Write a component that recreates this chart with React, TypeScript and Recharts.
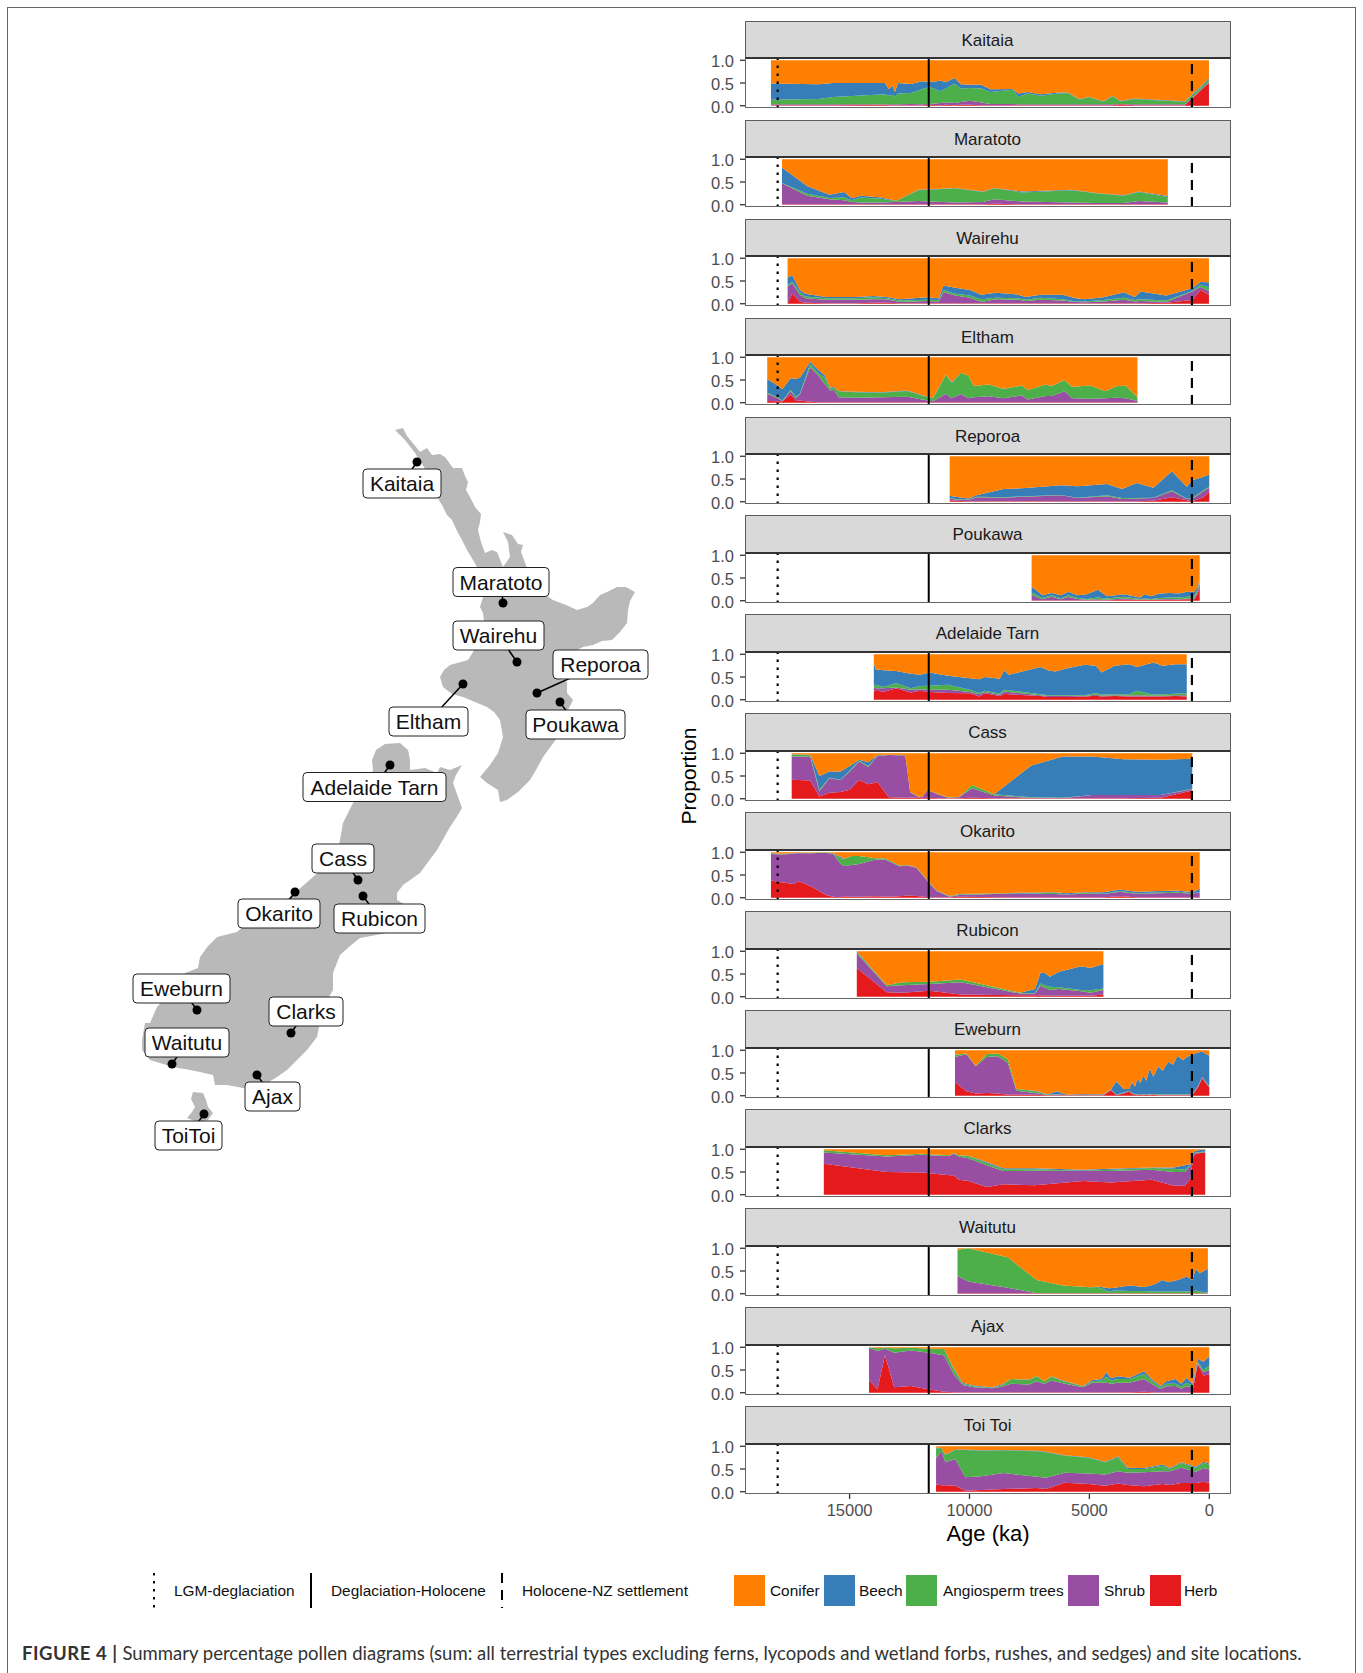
import React from 'react';
import { AreaChart, Area, XAxis, YAxis, ReferenceLine, ScatterChart, Scatter } from 'recharts';

// Upper edge of each stacked band (ages in years BP).
// The conifer band always fills what is left up to 1.0.
const kaitaiaAges = [18280, 16300, 15690, 13525, 13370, 13215, 13110, 12985, 12445, 11980, 11670, 11210, 10980, 10620, 10360, 9975, 9510, 9125, 8200, 7965, 7580, 7040, 6270, 5880, 5420, 5030, 4415, 4030, 3720, 3105, 1020, 15];
const kaitaiaHerb = [.01, .01, .01, .02, .01, .01, .01, .01, .01, .01, .02, .01, .02, .01, .02, .02, .01, .01, .01, .01, .01, .01, .01, .01, .01, .01, .01, .01, .03, .01, .01, .5];
const kaitaiaShrub = [.03, .03, .03, .03, .03, .03, .03, .03, .04, .03, .04, .06, .07, .06, .08, .11, .07, .04, .04, .03, .03, .03, .03, .03, .03, .03, .03, .03, .04, .03, .03, .52];
const kaitaiaAngio = [.13, .15, .19, .25, .22, .24, .2, .27, .28, .36, .41, .32, .38, .49, .38, .39, .38, .3, .35, .2, .27, .22, .27, .28, .13, .19, .09, .21, .1, .15, .09, .57];
const kaitaiaBeech = [.49, .47, .5, .5, .37, .44, .3, .5, .48, .54, .52, .55, .52, .61, .47, .46, .46, .36, .37, .27, .3, .25, .29, .29, .14, .2, .1, .22, .11, .16, .1, .6];

const maratotoAges = [17820, 16770, 15840, 15225, 14915, 14530, 13680, 13060, 12135, 11670, 10590, 9435, 8970, 7810, 5730, 4725, 3565, 2950, 1730];
const maratotoHerb = [.01, .01, .01, .01, .01, .01, .01, .01, .01, .01, .01, .01, .02, .01, .01, .01, .01, .01, .01];
const maratotoShrub = [.47, .2, .12, .1, .06, .05, .05, .06, .08, .07, .05, .06, .12, .07, .05, .04, .04, .08, .05];
const maratotoAngio = [.48, .24, .15, .16, .1, .16, .13, .08, .32, .33, .36, .28, .36, .27, .32, .25, .2, .28, .17];
const maratotoBeech = [.82, .41, .22, .28, .14, .2, .16, .09, .33, .34, .37, .29, .37, .29, .33, .26, .21, .29, .19];

const wairehuAges = [17585, 17385, 17075, 16845, 15995, 14760, 13990, 13450, 12910, 11750, 11285, 11085, 10590, 9975, 9510, 8895, 7965, 7660, 7040, 6115, 5575, 5190, 4415, 3565, 3105, 2870, 1790, 710, 370, 15];
const wairehuHerb = [.01, .22, .05, .02, .01, .01, .02, .02, .01, .01, .01, .01, .01, .01, .01, .01, .01, .01, .01, .01, .01, .01, .01, .01, .01, .01, .02, .08, .3, .2];
const wairehuShrub = [.38, .45, .2, .12, .09, .09, .1, .1, .04, .06, .05, .26, .18, .13, .04, .1, .09, .06, .09, .07, .04, .03, .05, .09, .05, .06, .04, .27, .37, .28];
const wairehuAngio = [.42, .48, .25, .16, .12, .12, .14, .12, .07, .09, .08, .3, .22, .18, .1, .13, .12, .09, .13, .1, .05, .05, .08, .13, .08, .1, .07, .28, .42, .36];
const wairehuBeech = [.58, .62, .3, .22, .15, .15, .17, .15, .1, .14, .12, .4, .35, .3, .2, .24, .2, .15, .2, .2, .12, .1, .14, .25, .15, .27, .18, .34, .48, .47];

const elthamAges = [18435, 18000, 17800, 17460, 17230, 17075, 16645, 16305, 16025, 15810, 15655, 15455, 14760, 13680, 12600, 11750, 11520, 10980, 10745, 10360, 10050, 9820, 9200, 8585, 7810, 7580, 6810, 6575, 6035, 5730, 4955, 4340, 3875, 3490, 2995];
const elthamHerb = [.04, .03, .03, .18, .04, .05, .02, .01, .01, .01, .01, .01, .01, .01, .01, .01, .01, .01, .01, .01, .01, .01, .01, .01, .01, .01, .01, .01, .01, .01, .01, .01, .01, .01, .01];
const elthamShrub = [.2, .1, .04, .25, .1, .18, .78, .6, .4, .27, .28, .12, .11, .12, .13, .05, .03, .2, .1, .19, .1, .12, .14, .1, .16, .07, .15, .15, .25, .1, .09, .1, .11, .1, .04];
const elthamAngio = [.22, .12, .05, .28, .13, .2, .85, .65, .55, .3, .33, .25, .23, .22, .26, .12, .1, .62, .43, .66, .6, .37, .4, .3, .38, .28, .4, .36, .5, .35, .38, .25, .36, .38, .12];
const elthamBeech = [.52, .38, .3, .54, .53, .55, .9, .72, .6, .33, .35, .26, .24, .23, .27, .13, .11, .62, .45, .66, .6, .37, .4, .31, .38, .28, .4, .37, .5, .35, .38, .25, .36, .38, .12];

const reporoaAges = [10825, 10590, 10050, 9665, 8585, 7660, 6190, 5495, 4260, 3645, 3025, 2330, 1560, 940, 710, 245, 0];
const reporoaHerb = [.03, .02, .01, .01, .01, .01, .01, .01, .01, .01, .01, .02, .1, .03, .01, .1, .22];
const reporoaShrub = [.07, .05, .04, .1, .09, .11, .14, .08, .12, .06, .07, .08, .23, .06, .06, .23, .31];
const reporoaAngio = [.08, .06, .05, .11, .1, .12, .15, .09, .14, .08, .08, .09, .25, .07, .08, .25, .33];
const reporoaBeech = [.13, .11, .07, .15, .28, .3, .36, .34, .39, .28, .41, .31, .67, .33, .47, .55, .6];

const poukawaAges = [7410, 7270, 6965, 6575, 6190, 5880, 5495, 5110, 4650, 4260, 3565, 2870, 2715, 2410, 2100, 1635, 1250, 940, 630, 480, 400];
const poukawaHerb = [.01, .01, .01, .01, .01, .01, .01, .01, .01, .01, .02, .02, .02, .02, .02, .02, .02, .03, .03, .15, .38];
const poukawaShrub = [.13, .1, .03, .09, .03, .08, .04, .02, .03, .02, .05, .02, .03, .02, .03, .04, .03, .05, .05, .2, .42];
const poukawaAngio = [.17, .15, .06, .12, .05, .12, .06, .04, .07, .05, .09, .04, .05, .04, .06, .07, .07, .09, .1, .25, .46];
const poukawaBeech = [.3, .26, .12, .17, .12, .2, .12, .14, .24, .1, .14, .07, .14, .1, .16, .17, .16, .2, .2, .3, .5];

const adelaideAges = [13990, 13910, 13600, 13060, 12445, 12060, 11670, 10900, 9975, 9590, 9355, 8740, 8555, 8355, 7040, 6730, 6425, 5880, 5190, 4725, 4495, 3950, 3335, 3025, 2330, 1945, 1405, 940];
const adelaideHerb = [.17, .22, .17, .25, .16, .2, .17, .15, .14, .07, .14, .08, .13, .12, .08, .06, .06, .06, .07, .09, .07, .08, .07, .07, .07, .07, .08, .07];
const adelaideShrub = [.27, .25, .25, .27, .22, .23, .22, .22, .17, .12, .17, .11, .18, .17, .1, .08, .08, .08, .08, .11, .09, .1, .09, .1, .09, .09, .1, .1];
const adelaideAngio = [.3, .33, .28, .36, .25, .3, .31, .33, .22, .15, .2, .13, .22, .21, .12, .1, .1, .1, .1, .15, .11, .12, .12, .2, .11, .12, .13, .15];
const adelaideBeech = [.8, .67, .65, .63, .57, .55, .6, .53, .47, .45, .5, .46, .65, .55, .72, .65, .62, .7, .77, .75, .6, .75, .78, .72, .82, .75, .78, .78];

const cassAges = [17415, 16645, 16260, 15840, 15380, 14990, 14605, 14220, 13835, 13370, 12675, 12475, 12165, 11980, 11750, 11285, 10900, 10435, 9895, 8970, 7425, 6115, 4880, 3565, 2025, 710];
const cassHerb = [.42, .4, .05, .13, .15, .2, .41, .32, .37, .03, .02, .02, .03, .01, .02, .01, .01, .01, .02, .01, .01, .01, .01, .01, .02, .18];
const cassShrub = [.93, .93, .16, .45, .41, .6, .82, .7, .94, .96, .95, .14, .05, .03, .19, .09, .02, .03, .23, .07, .02, .01, .08, .08, .08, .21];
const cassAngio = [.97, .96, .2, .46, .42, .62, .84, .72, .95, .97, .96, .15, .06, .03, .2, .1, .03, .03, .3, .1, .03, .02, .08, .08, .08, .22];
const cassBeech = [.98, .97, .5, .6, .6, .72, .86, .8, .96, .97, .96, .15, .06, .03, .2, .1, .03, .04, .3, .1, .73, .93, .93, .87, .86, .88];

const okaritoAges = [18280, 17850, 17310, 17155, 16615, 15995, 15690, 15380, 15225, 14915, 14605, 13910, 13525, 12910, 12600, 12215, 11700, 11365, 10825, 10435, 8585, 7810, 6425, 5960, 5190, 4415, 3720, 3025, 1330, 710, 400];
const okaritoHerb = [.38, .34, .3, .37, .25, .06, .02, .01, .03, .02, .02, .03, .02, .03, .05, .04, .01, .01, .01, .02, .01, .01, .01, .01, .01, .01, .03, .01, .01, .01, .01];
const okaritoShrub = [.96, .95, .97, .98, .98, .99, .97, .75, .7, .72, .74, .84, .84, .69, .71, .66, .33, .14, .02, .06, .09, .08, .08, .07, .09, .08, .13, .09, .11, .09, .12];
const okaritoAngio = [.97, .96, .97, .98, .99, 1, .98, .87, .85, .92, .92, .87, .87, .71, .72, .67, .34, .15, .03, .07, .1, .09, .11, .07, .11, .09, .15, .1, .13, .1, .12];
const okaritoBeech = [.98, .97, .98, .99, .99, 1, .98, .9, .86, .92, .92, .87, .87, .71, .72, .67, .35, .16, .04, .08, .1, .11, .12, .1, .12, .12, .18, .13, .16, .12, .2];

const rubiconAges = [14700, 13450, 12830, 11670, 10360, 7890, 7270, 7040, 6855, 6655, 6270, 5340, 4955, 4415];
const rubiconHerb = [.63, .1, .09, .13, .05, .03, .03, .03, .02, .02, .02, .02, .02, .05];
const rubiconShrub = [.95, .23, .25, .28, .32, .07, .07, .24, .2, .15, .17, .12, .09, .15];
const rubiconAngio = [.98, .25, .32, .33, .38, .08, .08, .29, .25, .22, .21, .15, .14, .18];
const rubiconBeech = [1, .25, .32, .33, .38, .09, .17, .53, .52, .44, .55, .67, .63, .72];

const eweburnAges = [10605, 10130, 9740, 9280, 8815, 8400, 8045, 7270, 6730, 6345, 5960, 5420, 4415, 4105, 3875, 3565, 3335, 3225, 3105, 2995, 2870, 2750, 2625, 2485, 2330, 2130, 1945, 1715, 1515, 1330, 1095, 940, 710, 480, 295, 0];
const eweburnHerb = [.3, .1, .05, .06, .05, .02, .02, .02, .01, .01, .01, .01, .01, .12, .01, .05, .1, .04, .02, .01, .02, .01, .02, .01, .02, .01, .01, .01, .01, .01, .01, .01, .01, .18, .38, .18];
const eweburnShrub = [.85, .91, .65, .85, .87, .72, .11, .06, .01, .02, .01, .01, .015, .13, .015, .06, .105, .05, .03, .02, .03, .02, .03, .02, .03, .02, .02, .02, .02, .02, .02, .02, .02, .2, .4, .2];
const eweburnAngio = [.9, .93, .66, .92, .93, .8, .15, .1, .02, .03, .01, .01, .02, .14, .02, .07, .11, .06, .04, .03, .04, .03, .04, .03, .04, .03, .03, .03, .03, .03, .03, .03, .03, .21, .41, .21];
const eweburnBeech = [.9, .93, .66, .92, .93, .8, .15, .11, .03, .1, .02, .03, .03, .14, .32, .15, .15, .3, .2, .38, .28, .45, .33, .6, .42, .65, .55, .75, .68, .88, .78, .85, .9, .95, .97, .88];

const clarksAges = [16075, 13450, 11980, 11670, 10825, 10670, 10435, 10050, 9280, 8585, 7270, 5265, 4105, 2410, 1480, 1020, 785, 680, 585, 170];
const clarksHerb = [.68, .5, .49, .47, .43, .43, .33, .3, .17, .23, .21, .3, .27, .33, .2, .2, .35, .8, .9, .93];
const clarksShrub = [.93, .84, .88, .87, .85, .9, .84, .8, .65, .52, .53, .52, .52, .55, .5, .5, .63, .85, .92, .94];
const clarksAngio = [.98, .87, .9, .89, .87, .92, .87, .85, .7, .56, .56, .53, .55, .59, .57, .55, .64, .85, .93, .95];
const clarksBeech = [.98, .87, .9, .89, .87, .92, .87, .86, .72, .58, .58, .55, .57, .6, .6, .65, .67, .9, .97, 1];

const waitutuAges = [10500, 10050, 8400, 7195, 6115, 4955, 4650, 4185, 3950, 3335, 2715, 2330, 1945, 1715, 1330, 940, 710, 555, 400, 60];
const waitutuHerb = [.01, .01, .01, .01, .01, .01, .01, .01, .01, .01, .01, .01, .01, .01, .01, .01, .01, .01, .01, .01];
const waitutuShrub = [.39, .27, .13, .01, .01, .01, .01, .01, .01, .01, .01, .01, .01, .01, .01, .01, .01, .01, .01, .01];
const waitutuAngio = [.97, 1, .8, .3, .18, .14, .15, .05, .07, .06, .06, .05, .05, .05, .05, .05, .05, .07, .05, .02];
const waitutuBeech = [.97, 1, .8, .3, .18, .14, .16, .12, .13, .18, .15, .2, .3, .25, .3, .38, .3, .55, .45, .55];

const ajaxAges = [14190, 13835, 13525, 13140, 12445, 11670, 11055, 10670, 10285, 9820, 9050, 8660, 8275, 7505, 7195, 6885, 6575, 6115, 5265, 4880, 4495, 4290, 4105, 3800, 3335, 2715, 2410, 2025, 1790, 1405, 1175, 940, 710, 480, 245, 0];
const ajaxHerb = [.28, .07, .83, .12, .15, .07, .02, .01, .01, .01, .01, .01, .01, .01, .01, .01, .01, .01, .01, .01, .01, .01, .01, .01, .01, .02, .01, .01, .01, .01, .01, .01, .01, .63, .38, .4];
const ajaxShrub = [.99, .92, .97, .88, .93, .88, .82, .42, .17, .12, .1, .13, .2, .18, .25, .2, .27, .21, .12, .22, .22, .22, .2, .22, .22, .3, .2, .08, .14, .15, .09, .14, .12, .65, .45, .5];
const ajaxAngio = [1, .98, .99, .98, .99, .97, .96, .52, .2, .14, .11, .16, .3, .28, .36, .25, .35, .26, .14, .25, .27, .35, .27, .3, .3, .41, .27, .12, .2, .2, .14, .22, .15, .68, .5, .6];
const ajaxBeech = [1, .98, .99, .98, .99, .97, .96, .55, .22, .16, .12, .18, .3, .29, .37, .25, .36, .27, .15, .28, .3, .45, .32, .36, .33, .47, .3, .15, .25, .3, .2, .33, .2, .75, .68, .8];

const toitoiAges = [11395, 11165, 11010, 10590, 10175, 9510, 8585, 7195, 6810, 6035, 5035, 4340, 3800, 3410, 2715, 1945, 1635, 1175, 555, 245, 0];
const toitoiHerb = [.16, .14, .14, .13, .02, .04, .06, .08, .06, .2, .17, .13, .18, .15, .12, .17, .15, .19, .19, .22, .2];
const toitoiShrub = [.73, .9, .65, .72, .32, .34, .41, .33, .31, .42, .4, .38, .45, .42, .43, .45, .45, .53, .44, .52, .49];
const toitoiAngio = [.95, .96, .81, .92, .92, .9, .91, .89, .87, .79, .75, .65, .76, .5, .5, .57, .5, .63, .52, .63, .6];
const toitoiBeech = [.97, .97, .82, .93, .93, .91, .92, .9, .88, .8, .76, .66, .78, .53, .52, .6, .52, .65, .55, .66, .62];

const panelTitles = ['Kaitaia', 'Maratoto', 'Wairehu', 'Eltham', 'Reporoa', 'Poukawa', 'Adelaide Tarn', 'Cass', 'Okarito', 'Rubicon', 'Eweburn', 'Clarks', 'Waitutu', 'Ajax', 'Toi Toi'];
const panelAges = [kaitaiaAges, maratotoAges, wairehuAges, elthamAges, reporoaAges, poukawaAges, adelaideAges, cassAges, okaritoAges, rubiconAges, eweburnAges, clarksAges, waitutuAges, ajaxAges, toitoiAges];
const panelHerb = [kaitaiaHerb, maratotoHerb, wairehuHerb, elthamHerb, reporoaHerb, poukawaHerb, adelaideHerb, cassHerb, okaritoHerb, rubiconHerb, eweburnHerb, clarksHerb, waitutuHerb, ajaxHerb, toitoiHerb];
const panelShrub = [kaitaiaShrub, maratotoShrub, wairehuShrub, elthamShrub, reporoaShrub, poukawaShrub, adelaideShrub, cassShrub, okaritoShrub, rubiconShrub, eweburnShrub, clarksShrub, waitutuShrub, ajaxShrub, toitoiShrub];
const panelAngio = [kaitaiaAngio, maratotoAngio, wairehuAngio, elthamAngio, reporoaAngio, poukawaAngio, adelaideAngio, cassAngio, okaritoAngio, rubiconAngio, eweburnAngio, clarksAngio, waitutuAngio, ajaxAngio, toitoiAngio];
const panelBeech = [kaitaiaBeech, maratotoBeech, wairehuBeech, elthamBeech, reporoaBeech, poukawaBeech, adelaideBeech, cassBeech, okaritoBeech, rubiconBeech, eweburnBeech, clarksBeech, waitutuBeech, ajaxBeech, toitoiBeech];

const ageTicks = [15000, 10000, 5000, 0];
const proportionTicks = [0, 0.5, 1];
const lgmAge = 18000;
const holoceneAge = 11700;
const settlementAge = 725;

const taxa = ['Herb', 'Shrub', 'Angiosperm trees', 'Beech', 'Conifer'];
const taxaColors = ['#E41A1C', '#984EA3', '#4DAF4A', '#377EB8', '#FF7F00'];

// Map, in the page's own pixel space
const northIsland = [[395, 430], [403, 428], [407, 436], [412, 442], [420, 452], [427, 448], [432, 455], [440, 454], [445, 457], [453, 468], [462, 468], [465, 476], [468, 482], [466, 490], [470, 497], [475, 507], [481, 514], [480, 522], [478, 530], [481, 542], [485, 553], [492, 550], [497, 552], [503, 567], [510, 557], [508, 542], [503, 532], [512, 535], [518, 544], [523, 545], [521, 552], [524, 560], [527, 568], [530, 583], [542, 593], [553, 600], [566, 605], [577, 610], [587, 607], [593, 603], [600, 595], [607, 592], [617, 587], [626, 587], [635, 592], [630, 601], [628, 610], [627, 623], [620, 632], [612, 640], [602, 641], [593, 645], [583, 647], [573, 652], [553, 677], [567, 682], [567, 693], [573, 700], [567, 712], [562, 726], [557, 738], [543, 757], [536, 770], [530, 780], [518, 792], [507, 800], [500, 802], [498, 790], [487, 783], [480, 777], [490, 765], [498, 753], [503, 737], [500, 720], [494, 712], [487, 707], [475, 702], [463, 697], [452, 694], [443, 687], [440, 677], [444, 670], [450, 665], [468, 660], [473, 652], [480, 640], [485, 630], [483, 613], [480, 607], [483, 597], [497, 583], [477, 567], [473, 560], [467, 550], [462, 540], [458, 533], [452, 520], [447, 515], [442, 505], [437, 497], [430, 477], [422, 464], [415, 453], [405, 440]];
const southIsland = [[376, 750], [385, 744], [400, 743], [408, 750], [410, 760], [410, 770], [425, 768], [437, 773], [440, 767], [450, 770], [462, 765], [456, 775], [453, 783], [462, 808], [456, 818], [450, 827], [437, 850], [428, 862], [420, 873], [403, 885], [397, 893], [397, 900], [420, 913], [387, 933], [360, 938], [350, 946], [340, 955], [333, 973], [333, 990], [323, 1007], [320, 1022], [317, 1037], [307, 1050], [297, 1060], [287, 1070], [277, 1077], [267, 1083], [243, 1088], [227, 1085], [215, 1085], [213, 1075], [200, 1072], [190, 1070], [173, 1067], [150, 1060], [142, 1050], [142, 1040], [145, 1023], [150, 1023], [157, 1007], [170, 993], [185, 973], [198, 968], [200, 957], [208, 946], [217, 937], [237, 932], [253, 917], [272, 907], [290, 897], [313, 877], [337, 857], [340, 840], [343, 823], [353, 803], [367, 787], [373, 770], [372, 760]];
const stewartIsland = [[193, 1092], [203, 1093], [206, 1100], [208, 1107], [213, 1113], [208, 1120], [198, 1122], [187, 1118], [192, 1112], [195, 1107], [191, 1099]];

const siteNames = ['Kaitaia', 'Maratoto', 'Wairehu', 'Reporoa', 'Poukawa', 'Eltham', 'Adelaide Tarn', 'Cass', 'Okarito', 'Rubicon', 'Eweburn', 'Clarks', 'Waitutu', 'Ajax', 'ToiToi'];
const siteX = [417, 503, 517, 537, 560, 463, 390, 358, 295, 363, 197, 291, 172, 257, 204];
const siteY = [462, 603, 662, 693, 702, 684, 765, 880, 892, 896, 1010, 1033, 1064, 1075, 1114];
const labelX = [402, 501, 498.5, 600.5, 575.5, 428.5, 374.5, 343, 279, 379.5, 181.5, 306, 187, 272.5, 188.5];
const labelY = [483.5, 582, 635.5, 664.5, 724.5, 721.5, 787, 858.5, 913.5, 918.5, 988.5, 1011.5, 1042.5, 1096.5, 1135.5];

const lineKeys = ['LGM-deglaciation', 'Deglaciation-Holocene', 'Holocene-NZ settlement'];
const legendTaxa = ['Conifer', 'Beech', 'Angiosperm trees', 'Shrub', 'Herb'];

const PANEL_LEFT = 744.5;
const PANEL_WIDTH = 486;
const FIRST_TOP = 20.7;
const PANEL_STEP = 98.95;
const STRIP_HEIGHT = 37.6;
const PANEL_HEIGHT = 50;
const AGE_DOMAIN: [number, number] = [-905, 19362];
const FONT = '"Liberation Sans", Arial, sans-serif';

function buildRows(i: number) {
  return panelAges[i].map((age, k) => {
    const h = panelHerb[i][k];
    const s = panelShrub[i][k];
    const a = panelAngio[i][k];
    const b = panelBeech[i][k];
    return {
      age,
      Herb: h,
      Shrub: Math.max(0, s - h),
      'Angiosperm trees': Math.max(0, a - Math.max(s, h)),
      Beech: Math.max(0, b - Math.max(a, s, h)),
      Conifer: Math.max(0, 1 - Math.max(b, a, s, h)),
    };
  });
}

function Panel({ index }: { index: number }) {
  const top = FIRST_TOP + index * PANEL_STEP;
  const isLast = index === panelTitles.length - 1;
  const axisRoom = isLast ? 44 : 10;
  const panelTop = top + STRIP_HEIGHT;

  return (
    <>
      <div
        style={{
          position: 'absolute', left: PANEL_LEFT, top, width: PANEL_WIDTH, height: STRIP_HEIGHT,
          boxSizing: 'border-box', background: '#d9d9d9', border: '1.5px solid #5c5c5c', borderBottomColor: '#333',
          font: `17px ${FONT}`, color: '#1a1a1a', textAlign: 'center', lineHeight: '37.5px',
        }}
      >
        {panelTitles[index]}
      </div>
      <div style={{ position: 'absolute', left: PANEL_LEFT - 65, top: panelTop - 10 }}>
        <AreaChart
          width={560}
          height={PANEL_HEIGHT + 10 + axisRoom}
          data={buildRows(index)}
          margin={{ top: 10, right: 9, bottom: isLast ? 0 : 10, left: 0 }}
        >
          <XAxis
            type="number"
            dataKey="age"
            domain={AGE_DOMAIN}
            allowDataOverflow
            reversed
            hide={!isLast}
            ticks={ageTicks}
            height={axisRoom}
            interval={0}
            axisLine={false}
            tickSize={5}
            tickMargin={5}
            tickLine={{ stroke: '#333', strokeWidth: 1.3 }}
            tick={{ fill: '#4d4d4d', fontSize: 16.5, fontFamily: FONT }}
          />
          <YAxis
            type="number"
            domain={[-0.05, 1.05]}
            allowDataOverflow
            ticks={proportionTicks}
            width={65}
            interval={0}
            axisLine={false}
            tickSize={5}
            tickMargin={6}
            tickLine={{ stroke: '#333', strokeWidth: 1.3 }}
            tickFormatter={(v: number) => v.toFixed(1)}
            tick={{ fill: '#4d4d4d', fontSize: 16.5, fontFamily: FONT, dy: 1 }}
          />
          {taxa.map((name, k) => (
            <Area
              key={name}
              type="linear"
              dataKey={name}
              stackId="pollen"
              fill={taxaColors[k]}
              fillOpacity={1}
              stroke="none"
              dot={false}
              activeDot={false}
              isAnimationActive={false}
            />
          ))}
          <ReferenceLine x={lgmAge} stroke="#000" strokeWidth={2.2} strokeDasharray="2.5 5.5" />
          <ReferenceLine x={holoceneAge} stroke="#000" strokeWidth={2} />
          <ReferenceLine x={settlementAge} stroke="#000" strokeWidth={2.2} strokeDasharray="10 7" />
        </AreaChart>
      </div>
      <div
        style={{
          position: 'absolute', left: PANEL_LEFT, top: panelTop, width: PANEL_WIDTH, height: PANEL_HEIGHT,
          boxSizing: 'border-box', border: '1.5px solid #666', borderTop: '1.5px solid #333', pointerEvents: 'none',
        }}
      />
    </>
  );
}

const toPoints = (outline: number[][]) => outline.map(([x, y]) => ({ x, y }));

function SiteDot(props: any) {
  const { cx, cy, payload } = props;
  return (
    <g>
      <line x1={cx} y1={cy} x2={cx + payload.dx} y2={cy + payload.dy} stroke="#000" strokeWidth={1.5} />
      <circle cx={cx} cy={cy} r={4.5} fill="#000" />
    </g>
  );
}

function SiteLabel(props: any) {
  const { cx, cy, payload } = props;
  const width = payload.boxWidth;
  return (
    <g>
      <rect x={cx - width / 2} y={cy - 14.5} width={width} height={29} rx={4} fill="#fff" stroke="#222" strokeWidth={1} />
      <text x={cx} y={cy + 7.5} textAnchor="middle" fontSize={21} fontFamily={FONT} fill="#111">
        {payload.name}
      </text>
    </g>
  );
}

const labelBoxWidths = [78, 96, 91, 95, 99, 79, 143, 62, 82, 91, 97, 74, 84, 55, 67];

function NzMap() {
  const dots = siteNames.map((name, i) => ({ name, x: siteX[i], y: siteY[i], dx: labelX[i] - siteX[i], dy: labelY[i] - siteY[i] }));
  const labels = siteNames.map((name, i) => ({ name, x: labelX[i], y: labelY[i], boxWidth: labelBoxWidths[i] }));
  const land = { fill: '#b9b9b9', stroke: 'none' };
  const noMark = () => <g />;
  return (
    <div style={{ position: 'absolute', left: 0, top: 0 }}>
      <ScatterChart width={700} height={1200} margin={{ top: 0, right: 0, bottom: 0, left: 0 }}>
        <XAxis type="number" dataKey="x" domain={[0, 700]} hide />
        <YAxis type="number" dataKey="y" domain={[0, 1200]} reversed hide />
        <Scatter data={toPoints(northIsland)} line={land} shape={noMark} isAnimationActive={false} />
        <Scatter data={toPoints(southIsland)} line={land} shape={noMark} isAnimationActive={false} />
        <Scatter data={toPoints(stewartIsland)} line={land} shape={noMark} isAnimationActive={false} />
        <Scatter data={dots} shape={SiteDot} isAnimationActive={false} />
        <Scatter data={labels} shape={SiteLabel} isAnimationActive={false} />
      </ScatterChart>
    </div>
  );
}

function Legend() {
  const text = (left: number, label: string) => (
    <div key={label} style={{ position: 'absolute', left, top: 1582, font: `15.4px ${FONT}`, color: '#111', whiteSpace: 'nowrap' }}>
      {label}
    </div>
  );
  const rule = (left: number, dash: string) => (
    <svg key={left} style={{ position: 'absolute', left: left - 3, top: 1573 }} width={6} height={35}>
      <line x1={3} y1={0} x2={3} y2={35} stroke="#000" strokeWidth={2} strokeDasharray={dash} />
    </svg>
  );
  const swatchLeft = [734, 823.5, 906, 1068, 1150];
  const swatchText = [770, 859, 943, 1104, 1184];
  const swatchColor = ['#FF7F00', '#377EB8', '#4DAF4A', '#984EA3', '#E41A1C'];
  return (
    <>
      {rule(154, '2.5 5.5')}
      {rule(311, 'none')}
      {rule(502, '10 7')}
      {text(174, lineKeys[0])}
      {text(331, lineKeys[1])}
      {text(522, lineKeys[2])}
      {legendTaxa.map((name, i) => (
        <React.Fragment key={name}>
          <div style={{ position: 'absolute', left: swatchLeft[i], top: 1575, width: 31, height: 31, background: swatchColor[i] }} />
          {text(swatchText[i], name)}
        </React.Fragment>
      ))}
    </>
  );
}

export default function App() {
  return (
    <div style={{ position: 'absolute', left: 0, top: 0, width: 1363, height: 1673, background: '#fff', overflow: 'hidden' }}>
      <div style={{ position: 'absolute', left: 7, top: 7, width: 1349, height: 1680, boxSizing: 'border-box', border: '1px solid #666' }} />
      <NzMap />
      {panelTitles.map((title, i) => (
        <Panel key={title} index={i} />
      ))}
      <div
        style={{
          position: 'absolute', left: 689, top: 775.5, transform: 'translate(-50%, -50%) rotate(-90deg)',
          font: `21px ${FONT}`, color: '#000', whiteSpace: 'nowrap',
        }}
      >
        Proportion
      </div>
      <div style={{ position: 'absolute', left: 988, top: 1534, transform: 'translate(-50%, -50%)', font: `22px ${FONT}`, color: '#000', whiteSpace: 'nowrap' }}>
        Age (ka)
      </div>
      <Legend />
      <div style={{ position: 'absolute', left: 22, top: 1642, font: `18.5px Lato, sans-serif`, color: '#333', whiteSpace: 'nowrap' }}>
        <b style={{ letterSpacing: 0.55 }}>FIGURE 4 |</b> Summary percentage pollen diagrams (sum: all terrestrial types excluding ferns, lycopods and wetland forbs, rushes, and sedges) and site locations.
      </div>
    </div>
  );
}
